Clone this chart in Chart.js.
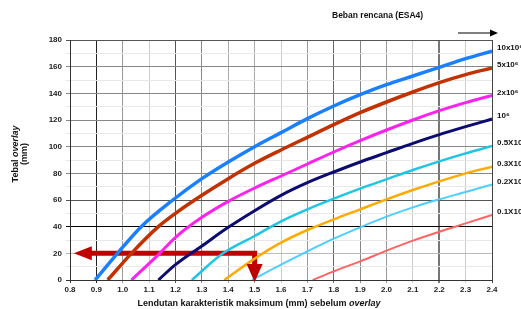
<!DOCTYPE html>
<html>
<head>
<meta charset="utf-8">
<script src="https://cdn.jsdelivr.net/npm/chart.js@4"></script>
<style>
  body { margin: 0; background: #fff; }
  #wrap { position: relative; width: 521px; height: 309px; }
</style>
</head>
<body>
<div id="wrap"><canvas id="overlayChart"></canvas></div>
<script>
// curve values (x = deflection mm, y = overlay mm)
const x10e6 = [0.895, 0.98, 1.07, 1.19, 1.3, 1.4, 1.5, 1.6, 1.7, 1.8, 1.9, 2.0, 2.1, 2.2, 2.3, 2.4];
const y10e6 = [0, 20, 40, 60, 76, 88.5, 100, 110.5, 121, 130.5, 139, 146.5, 153, 159.5, 166, 171.7];
const x5e6 = [0.943, 1.033, 1.135, 1.2, 1.3, 1.4, 1.5, 1.6, 1.7, 1.8, 1.9, 2.0, 2.1, 2.2, 2.3, 2.4];
const y5e6 = [0, 20, 40, 50, 63.5, 76, 87.5, 97.5, 107, 116.5, 125.5, 133.5, 141, 148, 154, 159];
const x2e6 = [1.033, 1.14, 1.2, 1.3, 1.4, 1.5, 1.6, 1.7, 1.8, 1.9, 2.0, 2.1, 2.2, 2.3, 2.4];
const y2e6 = [0, 20, 32, 47, 59, 69, 78, 87, 96, 104.5, 112.5, 120, 127, 133, 138.5];
const x1e6 = [1.135, 1.2, 1.3, 1.4, 1.5, 1.6, 1.7, 1.8, 1.9, 2.0, 2.1, 2.2, 2.3, 2.4];
const y1e6 = [0, 11.5, 25.5, 39.5, 52, 63.5, 73, 81, 88.5, 95.5, 102.5, 109, 115, 120.7];
const x05e6 = [1.262, 1.38, 1.5, 1.6, 1.7, 1.8, 1.9, 2.0, 2.1, 2.2, 2.3, 2.4];
const y05e6 = [0, 20, 33, 44, 53, 61, 68.5, 75.5, 82.5, 89, 95, 100.5];
const x03e6 = [1.385, 1.5, 1.6, 1.7, 1.8, 1.9, 2.0, 2.1, 2.2, 2.3, 2.4];
const y03e6 = [0, 16, 28, 37.5, 45.5, 53, 60.5, 67.5, 74, 80, 85];
const x02e6 = [1.49, 1.6, 1.7, 1.8, 1.9, 2.0, 2.1, 2.2, 2.3, 2.4];
const y02e6 = [0, 11.5, 21.5, 31, 39.5, 47.5, 54.5, 60.5, 66, 71.7];
const x01e6 = [1.72, 1.8, 1.9, 2.0, 2.1, 2.2, 2.3, 2.4];
const y01e6 = [0, 6.5, 14, 22, 29.5, 36.2, 42.5, 48.7];

const seriesLabels = ['10x10⁶', '5x10⁶', '2x10⁶', '10⁶', '0.5X10⁶', '0.3X10⁶', '0.2X10⁶', '0.1X10⁶'];
const seriesColors = ['#1a80ff', '#c23200', '#ff22ee', '#0c0c70', '#1ec6e4', '#ffaa00', '#4ccfff', '#ff6464'];
const seriesWidths = [3.5, 3.5, 3, 3, 2.5, 2.5, 2, 2];
const seriesX = [x10e6, x5e6, x2e6, x1e6, x05e6, x03e6, x02e6, x01e6];
const seriesY = [y10e6, y5e6, y2e6, y1e6, y05e6, y03e6, y02e6, y01e6];

// example reading: 1.5 mm -> 20 mm overlay
const arrowX = [0.875, 1.5, 1.5];
const arrowY = [20, 20, 10.5];

// shading of the vertical grid lines, per tenth of a mm
const vGridShade = {8: '#333', 9: '#222', 10: '#999', 11: '#ccc', 12: '#555', 13: '#888', 14: '#aaa', 15: '#aaa',
  16: '#ccc', 17: '#999', 18: '#666', 19: '#888', 20: '#999', 21: '#ccc', 22: '#777', 23: '#ccc', 24: '#444'};
const hGridShade = {0: '#333', 20: '#bbb', 40: '#000', 60: '#555', 80: '#888', 100: '#888', 120: '#888', 140: '#888', 160: '#888', 180: '#555'};

const datasets = seriesX.map((xs, i) => ({
    label: seriesLabels[i],
    data: xs.map((x, j) => ({ x: x, y: seriesY[i][j] })),
    borderColor: seriesColors[i],
    borderWidth: seriesWidths[i],
    pointRadius: 0,
    showLine: true,
    cubicInterpolationMode: 'monotone',
    fill: false
}));

datasets.push({
    label: 'arrow',
    data: arrowX.map((x, j) => ({ x: x, y: arrowY[j] })),
    borderColor: '#c00000',
    borderWidth: 5,
    pointRadius: 0,
    showLine: true,
    tension: 0,
    borderJoinStyle: 'miter'
});

const decorPlugin = {
    id: 'decor',
    afterDatasetsDraw(chart) {
        const c = chart.ctx;
        const xs = chart.scales.x, ys = chart.scales.y;
        c.save();
        // red arrow heads
        c.fillStyle = '#c00000';
        const lx = xs.getPixelForValue(arrowX[0]), ly = ys.getPixelForValue(arrowY[0]);
        c.beginPath();
        c.moveTo(lx + 2, ly - 7); c.lineTo(lx - 16, ly); c.lineTo(lx + 2, ly + 7); c.closePath(); c.fill();
        const dx = xs.getPixelForValue(arrowX[2]), dy = ys.getPixelForValue(arrowY[2]);
        c.beginPath();
        c.moveTo(dx - 8, dy - 2); c.lineTo(dx, dy + 16); c.lineTo(dx + 8, dy - 2); c.closePath(); c.fill();

        // labels at the right end of each curve
        c.fillStyle = '#111';
        c.font = 'bold 8px "Liberation Sans", Arial, sans-serif';
        c.textBaseline = 'middle';
        c.textAlign = 'left';
        seriesX.forEach((xsr, i) => {
            const yv = seriesY[i][seriesY[i].length - 1];
            c.fillText(seriesLabels[i], chart.chartArea.right + 5, ys.getPixelForValue(yv) - 3);
        });

        // header + arrow
        c.font = 'bold 8.5px "Liberation Sans", Arial, sans-serif';
        c.textAlign = 'left';
        c.fillText('Beban rencana (ESA4)', 332, 16);
        c.strokeStyle = '#000';
        c.lineWidth = 1.2;
        c.beginPath(); c.moveTo(458, 33); c.lineTo(496, 33); c.stroke();
        c.fillStyle = '#000';
        c.beginPath(); c.moveTo(490, 29.5); c.lineTo(498, 33); c.lineTo(490, 36.5); c.closePath(); c.fill();

        // x axis title with italic "overlay"
        c.fillStyle = '#111';
        const part1 = 'Lendutan karakteristik maksimum (mm) sebelum ';
        const fB = 'bold 9px "Liberation Sans", Arial, sans-serif';
        const fI = 'italic bold 9px "Liberation Sans", Arial, sans-serif';
        c.font = fB;
        const w1 = c.measureText(part1).width;
        c.font = fI;
        const w2 = c.measureText('overlay').width;
        let sx = 259 - (w1 + w2) / 2;
        c.textBaseline = 'alphabetic';
        c.font = fB; c.fillText(part1, sx, 306);
        c.font = fI; c.fillText('overlay', sx + w1, 306);

        // y axis title, rotated
        c.translate(17.5, 154);
        c.rotate(-Math.PI / 2);
        c.textAlign = 'left';
        c.font = fB;
        const t1 = c.measureText('Tebal ').width;
        c.font = fI;
        const t2 = c.measureText('overlay').width;
        c.font = fB; c.fillText('Tebal ', -(t1 + t2) / 2, 0);
        c.font = fI; c.fillText('overlay', -(t1 + t2) / 2 + t1, 0);
        c.font = fB; c.textAlign = 'center';
        c.fillText('(mm)', 0, 9.5);
        c.restore();
    }
};

new Chart(document.getElementById('overlayChart'), {
    type: 'scatter',
    data: { datasets: datasets },
    options: {
        responsive: true,
        maintainAspectRatio: false,
        animation: false,
        layout: { padding: { top: 40, right: 29, left: 0, bottom: 0 } },
        plugins: { legend: { display: false }, tooltip: { enabled: false } },
        scales: {
            x: {
                type: 'linear',
                min: 0.8,
                max: 2.4,
                afterFit: (s) => { s.height = 29; },
                border: { color: '#333', width: 1 },
                grid: {
                    color: (ctx) => vGridShade[Math.round(ctx.tick.value * 10)] || '#ccc',
                    lineWidth: (ctx) => Math.round(ctx.tick.value * 10) === 22 ? 2 : 1,
                    tickLength: 3
                },
                ticks: {
                    stepSize: 0.1,
                    color: '#222',
                    padding: 2,
                    font: { family: '"Liberation Sans", Arial, sans-serif', size: 8, weight: 'bold' },
                    callback: (v) => v.toFixed(1),
                    maxRotation: 0
                }
            },
            y: {
                min: 0,
                max: 180,
                afterFit: (s) => { s.width = 70; },
                border: { color: '#333', width: 1 },
                grid: {
                    color: (ctx) => hGridShade[ctx.tick.value] || '#e8e8e8',
                    tickLength: 4
                },
                ticks: {
                    stepSize: 10,
                    color: '#222',
                    padding: 4,
                    font: { family: '"Liberation Sans", Arial, sans-serif', size: 8, weight: 'bold' },
                    callback: (v) => v % 20 === 0 ? v : ''
                }
            }
        }
    },
    plugins: [decorPlugin]
});
</script>
</body>
</html>
